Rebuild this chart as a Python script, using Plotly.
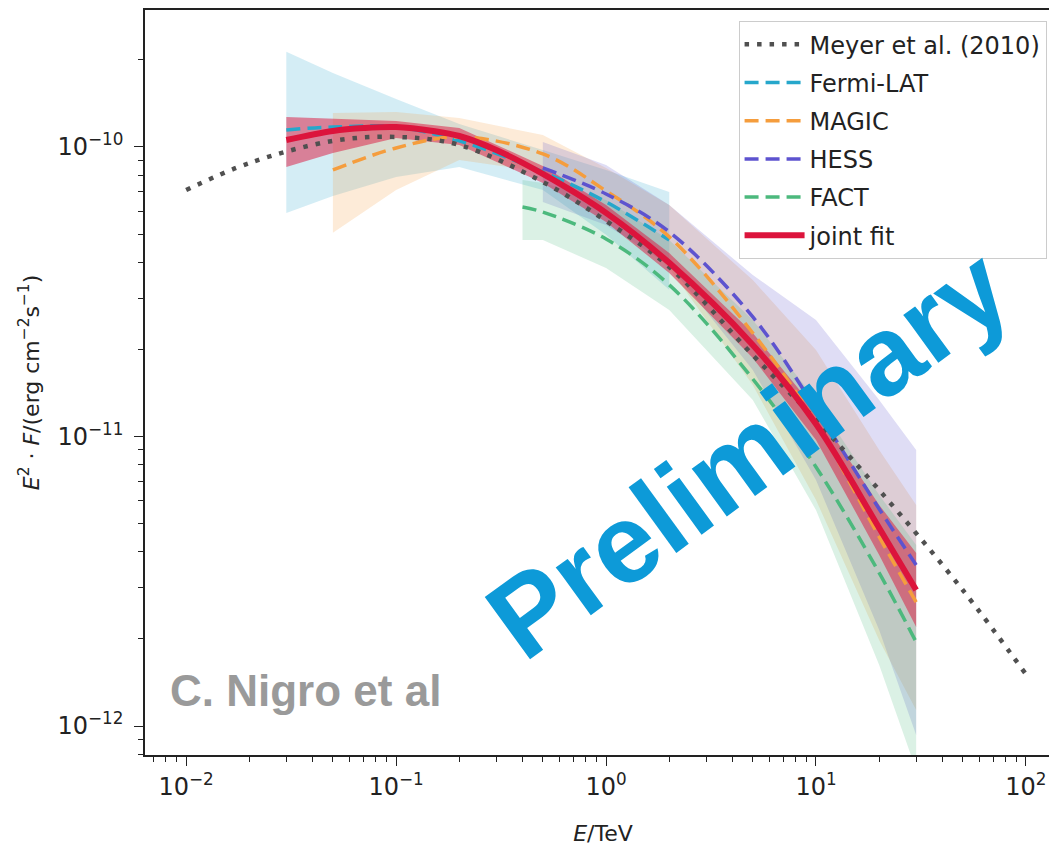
import plotly.graph_objects as go

# ---------------- data (E in TeV, E^2 F in erg cm^-2 s^-1) ----------------
meyer_E = [0.01, 0.02, 0.05, 0.1, 0.2, 0.5, 1, 2, 5, 10, 20, 50, 100]
meyer_F = [7.10e-11, 8.80e-11, 1.049e-10, 1.083e-10, 1.016e-10, 7.57e-11, 5.55e-11,
           3.85e-11, 1.91e-11, 1.14e-11, 6.53e-12, 2.95e-12, 1.51e-12]

fermi_E = [0.03, 0.05, 0.1, 0.2, 0.5, 1, 2]
fermi_F = [1.145e-10, 1.172e-10, 1.172e-10, 1.049e-10, 8.20e-11, 6.46e-11, 4.77e-11]
fermi_hi = [2.13e-10, 1.80e-10, 1.465e-10, 1.20e-10, 9.76e-11, 8.33e-11, 6.99e-11]
fermi_lo = [5.92e-11, 6.77e-11, 7.88e-11, 8.53e-11, 7.10e-11, 4.97e-11, 3.21e-11]

magic_E = [0.05, 0.1, 0.2, 0.5, 1, 2, 5, 10, 20, 30]
magic_F = [8.33e-11, 9.92e-11, 1.083e-10, 9.46e-11, 7.05e-11, 4.89e-11, 2.278e-11,
           1.113e-11, 4.50e-12, 2.68e-12]
magic_hi = [1.311e-10, 1.321e-10, 1.259e-10, 1.100e-10, 8.46e-11, 6.30e-11, 3.47e-11,
            1.99e-11, 8.98e-12, 5.80e-12]
magic_lo = [5.05e-11, 7.10e-11, 9.02e-11, 8.20e-11, 5.96e-11, 3.82e-11, 1.506e-11,
            6.04e-12, 1.98e-12, 1.136e-12]

hess_E = [0.5, 1, 2, 5, 10, 20, 30]
hess_F = [8.46e-11, 6.88e-11, 5.09e-11, 2.587e-11, 1.245e-11, 5.62e-12, 3.60e-12]
hess_hi = [1.041e-10, 8.67e-11, 6.30e-11, 3.61e-11, 2.526e-11, 1.337e-11, 8.98e-12]
hess_lo = [6.46e-11, 5.38e-11, 3.91e-11, 1.697e-11, 7.07e-12, 2.146e-12, 9.31e-13]

fact_E = [0.4, 0.5, 1, 2, 5, 10, 20, 30]
fact_F = [6.20e-11, 5.96e-11, 4.81e-11, 3.34e-11, 1.580e-11, 7.85e-12, 3.38e-12, 1.95e-12]
fact_hi = [7.69e-11, 7.51e-11, 6.56e-11, 4.77e-11, 2.526e-11, 1.337e-11, 6.28e-12, 4.22e-12]
fact_lo = [4.77e-11, 4.77e-11, 3.82e-11, 2.735e-11, 1.337e-11, 5.57e-12, 1.624e-12, 7.05e-13]

joint_E = [0.03, 0.05, 0.07, 0.1, 0.15, 0.2, 0.3, 0.5, 1, 2, 5, 10, 20, 30]
joint_F = [1.057e-10, 1.136e-10, 1.163e-10, 1.172e-10, 1.136e-10, 1.091e-10, 9.76e-11,
           8.07e-11, 5.92e-11, 3.978e-11, 2.07e-11, 1.104e-11, 4.83e-12, 2.95e-12]
joint_band_E = [0.03, 0.05, 0.1, 0.2, 0.5, 1, 2, 5, 10, 20, 30]
joint_hi = [1.269e-10, 1.250e-10, 1.230e-10, 1.163e-10, 8.60e-11, 6.30e-11, 4.30e-11,
            2.278e-11, 1.234e-11, 5.80e-12, 3.96e-12]
joint_lo = [8.53e-11, 9.53e-11, 1.074e-10, 1.016e-10, 7.51e-11, 5.51e-11, 3.67e-11,
            1.867e-11, 9.73e-12, 3.90e-12, 2.20e-12]

x_tickvals = [0.01, 0.1, 1, 10, 100]
x_ticktext = ["10<sup>−2</sup>", "10<sup>−1</sup>", "10<sup>0</sup>", "10<sup>1</sup>", "10<sup>2</sup>"]
y_tickvals = [1e-12, 1e-11, 1e-10]
y_ticktext = ["10<sup>−12</sup>", "10<sup>−11</sup>", "10<sup>−10</sup>"]
minor_mult = [2, 3, 4, 5, 6, 7, 8, 9]
x_minor = [m * 10.0 ** e for e in range(-3, 3) for m in minor_mult]
y_minor = [m * 10.0 ** e for e in range(-13, -9) for m in minor_mult]

series = [
    ("Fermi-LAT", fermi_E, fermi_F, fermi_lo, fermi_hi, "#26a7cb", "rgba(38,167,203,0.2)"),
    ("MAGIC", magic_E, magic_F, magic_lo, magic_hi, "#f59d3d", "rgba(245,157,61,0.2)"),
    ("HESS", hess_E, hess_F, hess_lo, hess_hi, "#5d53cf", "rgba(93,83,207,0.2)"),
    ("FACT", fact_E, fact_F, fact_lo, fact_hi, "#4cb97d", "rgba(76,185,125,0.2)"),
]

FONT = "DejaVu Sans"
fig = go.Figure()

# uncertainty bands
for name, E, F, lo, hi, col, fcol in series:
    fig.add_trace(go.Scatter(
        x=list(E) + list(E)[::-1], y=list(hi) + list(lo)[::-1],
        fill="toself", fillcolor=fcol, line=dict(width=0), mode="lines",
        showlegend=False, hoverinfo="skip"))
fig.add_trace(go.Scatter(
    x=joint_band_E + joint_band_E[::-1], y=joint_hi + joint_lo[::-1],
    fill="toself", fillcolor="rgba(220,20,60,0.5)", line=dict(width=0), mode="lines",
    showlegend=False, hoverinfo="skip"))

# model lines
for i, (name, E, F, lo, hi, col, fcol) in enumerate(series):
    fig.add_trace(go.Scatter(
        x=E, y=F, mode="lines", name=name, legendrank=2 + i, legendgroup=name,
        line=dict(color=col, width=3.5, dash="14px,7px", shape="spline", smoothing=1.0)))

fig.add_trace(go.Scatter(
    x=meyer_E, y=meyer_F, mode="lines", name="Meyer et al. (2010)", legendrank=1,
    legendgroup="meyer",
    line=dict(color="#505050", width=4.5, dash="4.5px,8px", shape="spline", smoothing=1.0)))

fig.add_trace(go.Scatter(
    x=joint_E, y=joint_F, mode="lines", name="joint fit", legendrank=6, legendgroup="joint",
    line=dict(color="#dc143c", width=6, shape="spline", smoothing=1.0)))

axis_common = dict(
    type="log", showgrid=False, zeroline=False, showline=True, linecolor="#222",
    linewidth=1.6, ticks="outside", ticklen=9, tickwidth=1.4, tickcolor="#222",
    automargin=False,
    tickfont=dict(family=FONT, size=24, color="#222"),
)

fig.update_layout(
    width=1057, height=844,
    margin=dict(l=137, r=4, t=2, b=97),
    paper_bgcolor="white", plot_bgcolor="white",
    font=dict(family=FONT, size=23, color="#222"),
    xaxis=dict(axis_common, range=[-2.196, 2.167], mirror=True,
               tickvals=x_tickvals, ticktext=x_ticktext,
               minor=dict(ticks="outside", ticklen=5, tickwidth=1.1, tickcolor="#222",
                          showgrid=False, tickmode="array", tickvals=x_minor),
               title=dict(text="<i>E</i>/TeV", font=dict(family=FONT, size=22), standoff=26)),
    yaxis=dict(axis_common, range=[-12.100, -9.527],
               tickvals=y_tickvals, ticktext=y_ticktext, ticklabelstandoff=6,
               minor=dict(ticks="outside", ticklen=5, tickwidth=1.1, tickcolor="#222",
                          showgrid=False, tickmode="array", tickvals=y_minor),
               title=dict(text="<i>E</i><sup>2</sup> · <i>F</i>/(erg cm<sup>−2</sup>s<sup>−1</sup>)",
                          font=dict(family=FONT, size=22), standoff=12)),
    legend=dict(x=0.648, y=0.985, xanchor="left", yanchor="top",
                bgcolor="rgba(255,255,255,0.85)", bordercolor="#cccccc", borderwidth=1,
                itemwidth=60,
                font=dict(family=FONT, size=24, color="#222"), tracegroupgap=4),
    annotations=[
        dict(text="<b>Preliminary</b>", xref="paper", yref="paper", x=0.658, y=0.405,
             xanchor="center", yanchor="middle", textangle=-36, showarrow=False,
             font=dict(family="Liberation Sans", size=112, color="#0d9ad8")),
        dict(text="<b>C. Nigro et al</b>", xref="paper", yref="paper", x=0.025, y=0.087,
             xanchor="left", yanchor="middle", showarrow=False,
             font=dict(family="Liberation Sans", size=44, color="#9a9a9a")),
    ],
)

fig.write_html("out.html")
